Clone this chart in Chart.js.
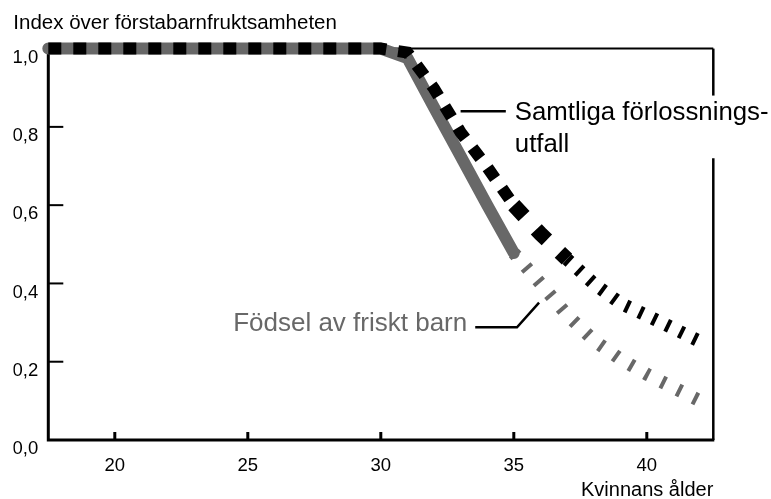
<!DOCTYPE html>
<html>
<head>
<meta charset="utf-8">
<script src="https://cdn.jsdelivr.net/npm/chart.js@4"></script>
<style>
  html, body { margin: 0; padding: 0; background: #fff; }
  #wrap { width: 771px; height: 499px; }
</style>
</head>
<body>
<div id="wrap"><canvas id="chart"></canvas></div>
<script>
// Women's age and first-birth fertility index
const ages = [17.5, 30, 31, 32, 33, 34, 35, 36, 37, 38, 39, 40, 41, 42, 42.1];
const samtliga = [1.0, 1.0, 0.99, 0.898, 0.786, 0.697, 0.60, 0.527, 0.462, 0.40, 0.35, 0.318, 0.285, 0.252, 0.248];
const friskt = [1.0, 1.0, 0.976, 0.85, 0.725, 0.60, 0.478, 0.40, 0.32, 0.255, 0.207, 0.168, 0.134, 0.10, 0.097];
const xTicks = [20, 25, 30, 35, 40];
const yTicks = [0, 0.2, 0.4, 0.6, 0.8, 1.0];

const FONT = '"Liberation Sans", Arial, sans-serif';
const GRAY = '#686868';

// points of a series between two ages
function part(values, from, to) {
  const pts = [];
  ages.forEach((a, i) => {
    if (a >= from && a <= to) pts.push({ x: a, y: values[i] });
  });
  return pts;
}

const base = { pointRadius: 0, borderCapStyle: 'butt', fill: false, clip: 12 };

// axis frame with inner ticks, open at the right for the label
const frame = {
  id: 'frame',
  beforeDatasetsDraw(chart) {
    const { ctx, chartArea: a, scales: { x, y } } = chart;
    const seg = (x1, y1, x2, y2) => { ctx.beginPath(); ctx.moveTo(x1, y1); ctx.lineTo(x2, y2); ctx.stroke(); };
    ctx.save();
    ctx.strokeStyle = '#000';
    ctx.lineWidth = 2;
    seg(a.left, a.top, a.right, a.top);
    ctx.lineWidth = 2.5;
    seg(a.right, a.top, a.right, y.getPixelForValue(0.88));
    seg(a.right, y.getPixelForValue(0.72), a.right, a.bottom);
    ctx.lineWidth = 3;
    ctx.beginPath();
    ctx.moveTo(a.left, a.top);
    ctx.lineTo(a.left, a.bottom);
    ctx.lineTo(a.right + 1, a.bottom);
    ctx.stroke();
    ctx.lineWidth = 2;
    y.ticks.forEach(t => {
      if (t.value <= 0) return;
      const py = y.getPixelForValue(t.value);
      seg(a.left, py, a.left + 15, py);
    });
    ctx.lineWidth = 3;
    x.ticks.forEach(t => {
      const px = x.getPixelForValue(t.value);
      seg(px, a.bottom, px, a.bottom - 8);
    });
    ctx.restore();
  }
};

// curve labels with leader lines
const notes = {
  id: 'notes',
  afterDatasetsDraw(chart) {
    const { ctx, scales: { x, y } } = chart;
    ctx.save();
    ctx.strokeStyle = '#000';
    ctx.lineWidth = 2.5;
    ctx.textBaseline = 'middle';

    const y1 = y.getPixelForValue(0.84);
    const x1 = x.getPixelForValue(34.7);
    ctx.beginPath();
    ctx.moveTo(x.getPixelForValue(33.0), y1);
    ctx.lineTo(x1, y1);
    ctx.stroke();
    ctx.font = '25.8px ' + FONT;
    ctx.fillStyle = '#000';
    ctx.textAlign = 'left';
    ctx.fillText('Samtliga förlossnings-', x1 + 9, y1 + 2);
    ctx.fillText('utfall', x1 + 9, y1 + 34);

    const y2 = y.getPixelForValue(0.288);
    const x2 = x.getPixelForValue(33.55);
    ctx.beginPath();
    ctx.moveTo(x2, y2);
    ctx.lineTo(x.getPixelForValue(35.12), y2);
    ctx.lineTo(x.getPixelForValue(35.95), y.getPixelForValue(0.351));
    ctx.stroke();
    ctx.font = '26px ' + FONT;
    ctx.fillStyle = GRAY;
    ctx.textAlign = 'right';
    ctx.fillText('Födsel av friskt barn', x2 - 8, y2 - 3);
    ctx.restore();
  }
};

new Chart(document.getElementById('chart').getContext('2d'), {
  type: 'line',
  data: {
    datasets: [
      { ...base, label: 'Samtliga förlossningsutfall', data: part(samtliga, 0, 35),
        borderColor: '#000', borderWidth: 12, borderDash: [13, 12] },
      { ...base, label: 'Samtliga förlossningsutfall', data: part(samtliga, 35, 37),
        borderColor: '#000', borderWidth: 15, borderDash: [15, 18] },
      { ...base, label: 'Samtliga förlossningsutfall', data: part(samtliga, 37, 43),
        borderColor: '#000', borderWidth: 13, borderDash: [4, 11] },
      { ...base, label: 'Födsel av friskt barn', data: part(friskt, 0, 35),
        borderColor: GRAY, borderWidth: 12, borderCapStyle: 'round', borderJoinStyle: 'round' },
      { ...base, label: 'Födsel av friskt barn', data: part(friskt, 35, 43),
        borderColor: GRAY, borderWidth: 13, borderDash: [4, 14] }
    ]
  },
  options: {
    responsive: true,
    maintainAspectRatio: false,
    animation: false,
    layout: { padding: { left: 13.3, right: 57.7, top: 0, bottom: 0 } },
    plugins: {
      legend: { display: false },
      tooltip: { enabled: false },
      title: {
        display: true,
        text: 'Index över förstabarnfruktsamheten',
        align: 'start',
        color: '#000',
        font: { family: FONT, size: 20.5, weight: 'normal' },
        padding: { top: 11, bottom: 13 }
      }
    },
    scales: {
      x: {
        type: 'linear',
        min: 17.5,
        max: 42.5,
        afterBuildTicks: s => { s.ticks = xTicks.map(v => ({ value: v })); },
        afterFit: s => { s.height = 59; },
        grid: { display: false, drawTicks: false },
        border: { display: false },
        ticks: { color: '#000', font: { family: FONT, size: 18.5 }, padding: 15, maxRotation: 0 },
        title: {
          display: true,
          text: 'Kvinnans ålder',
          align: 'end',
          color: '#000',
          font: { family: FONT, size: 20, lineHeight: 1 },
          padding: { top: 0, bottom: -1 }
        }
      },
      y: {
        min: 0,
        max: 1,
        afterBuildTicks: s => { s.ticks = yTicks.map(v => ({ value: v })); },
        afterFit: s => { s.width = 35; },
        grid: { display: false, drawTicks: false },
        border: { display: false },
        ticks: {
          color: '#000',
          font: { family: FONT, size: 18.5 },
          padding: 10,
          labelOffset: 9,
          callback: v => v.toFixed(1).replace('.', ',')
        }
      }
    }
  },
  plugins: [frame, notes]
});
</script>
</body>
</html>
